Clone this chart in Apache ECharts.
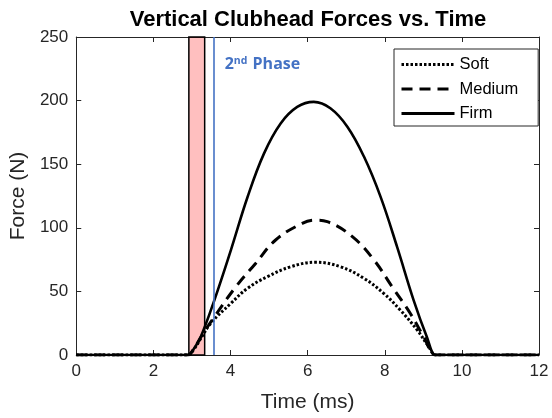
<!DOCTYPE html>
<html>
<head>
<meta charset="utf-8">
<script src="https://cdn.jsdelivr.net/npm/echarts@6/dist/echarts.min.js"></script>
<style>html,body{margin:0;padding:0;background:#fff;}#c{width:552px;height:418px;}</style>
</head>
<body>
<div id="c"></div>
<script>
// Time (ms) / Force (N) pairs
var softData = [[0,0],[2.8,0],[2.89,0],[3.05,4.5],[3.23,13],[3.49,25],[4.01,40.6],[4.44,52.4],[4.96,61.6],[5.56,69.4],[6.21,72.9],[6.85,69.4],[7.46,60.3],[7.97,48.5],[8.40,35.4],[8.84,19.7],[9.14,6.5],[9.31,0],[9.4,0],[12,0]];
var mediumData = [[0,0],[2.8,0],[2.89,0],[3.05,4.8],[3.23,14],[3.58,30],[4.14,53.7],[4.65,72],[5.17,90.4],[5.86,103.5],[6.2,106],[6.51,104.8],[7.16,93],[7.72,74.7],[8.19,53.7],[8.66,32.8],[9.01,14.4],[9.31,0],[9.4,0],[12,0]];
var firmData = [[0,0],[2.8,0],[2.89,0],[3.05,5],[3.23,14.4],[3.58,43],[4.01,82.5],[4.44,124],[4.87,158.5],[5.30,182],[5.73,195],[6.16,199],[6.59,194],[7.03,179.5],[7.46,156],[7.89,124.5],[8.32,85],[8.75,43],[9.09,14.4],[9.31,0],[9.4,0],[12,0]];
var seriesNames = ['Soft', 'Medium', 'Firm'];
var xTicks = [0, 12, 2];     // min, max, interval
var yTicks = [0, 250, 50];
var phase1Range = [2.92, 3.33];
var phase2Start = 3.57;
var phaseLabelPos = [3.85, 229];

var chart = echarts.init(document.getElementById('c'), null, {renderer: 'canvas'});
var FONT = 'Liberation Sans, Arial, Helvetica, sans-serif';
var AX = '#262626';

function axisX(pos, labels) {
  return {
    type: 'value', position: pos, min: xTicks[0], max: xTicks[1], interval: xTicks[2],
    axisLine: {show: true, onZero: false, lineStyle: {color: AX, width: 1}},
    axisTick: {show: true, inside: true, length: 5, lineStyle: {color: AX}},
    axisLabel: {show: labels, color: AX, fontSize: 17, fontFamily: FONT, margin: 8},
    splitLine: {show: false},
    name: labels ? 'Time (ms)' : '', nameLocation: 'middle', nameGap: 37,
    nameTextStyle: {color: AX, fontSize: 21, fontFamily: FONT}
  };
}
function axisY(pos, labels) {
  return {
    type: 'value', position: pos, min: yTicks[0], max: yTicks[1], interval: yTicks[2],
    axisLine: {show: true, onZero: false, lineStyle: {color: AX, width: 1}},
    axisTick: {show: true, inside: true, length: 5, lineStyle: {color: AX}},
    axisLabel: {show: labels, color: AX, fontSize: 17, fontFamily: FONT, margin: 8},
    splitLine: {show: false},
    name: labels ? 'Force (N)' : '', nameLocation: 'middle', nameGap: 37,
    nameTextStyle: {color: AX, fontSize: 21, fontFamily: FONT}
  };
}

var option = {
  animation: false,
  backgroundColor: '#fff',
  title: {
    text: 'Vertical Clubhead Forces vs. Time',
    left: 308, textAlign: 'center', top: 9, padding: 0,
    textStyle: {fontSize: 22, fontWeight: 'bold', color: '#000', fontFamily: FONT}
  },
  grid: {left: 75, right: 13, top: 37, bottom: 63, containLabel: false},
  xAxis: [axisX('bottom', true), axisX('top', false)],
  yAxis: [axisY('left', true), axisY('right', false)],
  legend: {
    data: seriesNames,
    orient: 'vertical', left: 394, top: 49,
    padding: [7, 20, 4, 6],
    itemWidth: 53, itemHeight: 14, itemGap: 7.5,
    borderColor: AX, borderWidth: 1, backgroundColor: '#fff',
    itemStyle: {opacity: 0},
    lineStyle: {width: 3},
    textStyle: {fontSize: 16.5, fontFamily: FONT, color: '#000', lineHeight: 16}
  },
  series: [
    {
      name: 'Soft', type: 'line', data: softData, symbol: 'none', smooth: 0.4, z: 3,
      lineStyle: {color: '#000', width: 3, type: [2.5, 2], cap: 'butt'}, itemStyle: {color: '#000'}
    },
    {
      name: 'Medium', type: 'line', data: mediumData, symbol: 'none', smooth: 0.4, z: 3,
      lineStyle: {color: '#000', width: 3, type: [11, 7], cap: 'butt'}, itemStyle: {color: '#000'}
    },
    {
      name: 'Firm', type: 'line', data: firmData, symbol: 'none', smooth: 0.4, z: 3,
      lineStyle: {color: '#000', width: 2.6}, itemStyle: {color: '#000'}
    },
    {
      name: 'phases', type: 'line', data: [], z: 6, symbol: 'none',
      markArea: {
        silent: true,
        itemStyle: {color: 'rgba(255,0,0,0.25)', borderColor: '#000', borderWidth: 1.5},
        data: [[{xAxis: phase1Range[0]}, {xAxis: phase1Range[1]}]]
      },
      markLine: {
        silent: true, symbol: ['none', 'none'],
        lineStyle: {color: '#4472c4', width: 1.6, type: 'solid'},
        label: {show: false},
        data: [{xAxis: phase2Start}]
      },
      markPoint: {
        silent: true, symbol: 'circle', symbolSize: 0,
        data: [{coord: phaseLabelPos}],
        label: {
          show: true, position: 'right', distance: 0,
          formatter: '{a|2}{b|nd}{a| Phase}',
          rich: {
            a: {fontSize: 16, fontWeight: 'bold', color: '#4472c4', fontFamily: 'Open Sans, Liberation Sans, sans-serif', verticalAlign: 'bottom'},
            b: {fontSize: 10.5, fontWeight: 'bold', color: '#4472c4', fontFamily: 'Open Sans, Liberation Sans, sans-serif', verticalAlign: 'top', padding: [0, 1, 6, 0]}
          }
        }
      }
    }
  ]
};
chart.setOption(option);
</script>
</body>
</html>
